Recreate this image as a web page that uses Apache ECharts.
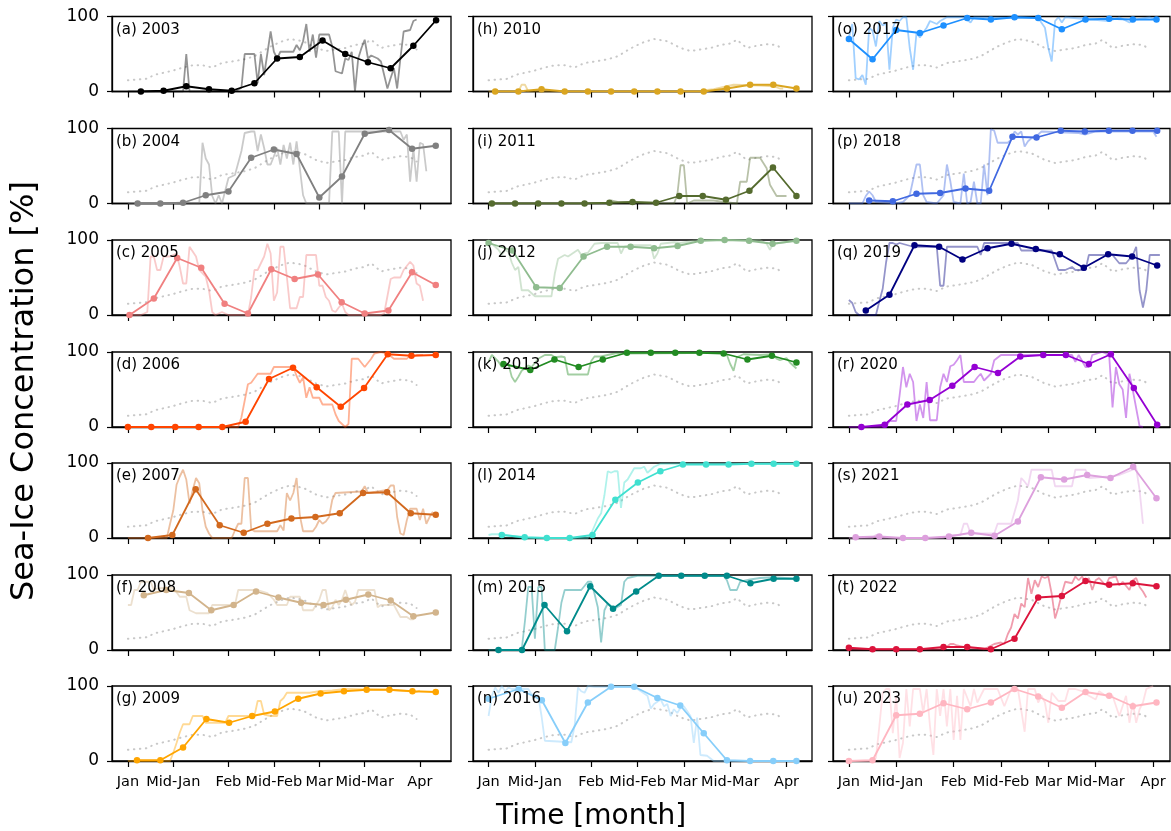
<!DOCTYPE html>
<html>
<head>
<meta charset="utf-8">
<script src="https://cdn.jsdelivr.net/npm/echarts@6/dist/echarts.min.js"></script>
<style>
  html, body { margin: 0; padding: 0; background: #fff; }
  #chart { width: 1171px; height: 831px; }
</style>
</head>
<body>
<div id="chart"></div>
<script>
const years = [2003, 2004, 2005, 2006, 2007, 2008, 2009, 2010, 2011, 2012, 2013,
  2014, 2015, 2016, 2017, 2018, 2019, 2020, 2021, 2022, 2023];
const tags = ["a", "b", "c", "d", "e", "f", "g", "h", "i", "j", "k",
  "l", "m", "n", "o", "p", "q", "r", "s", "t", "u"];
const colors = ["#000000", "#808080", "#f08080", "#ff4500", "#d2691e", "#d2b48c", "#ffa500",
  "#daa520", "#556b2f", "#8fbc8f", "#228b22", "#40e0d0", "#008b8b", "#87cefa",
  "#1e90ff", "#4169e1", "#000080", "#9400d3", "#dda0dd", "#dc143c", "#ffb6c1"];

// days counted from 1 January
const tickDays = [0, 14, 31, 45, 59, 73, 90];
const tickNames = ["Jan", "Mid-Jan", "Feb", "Mid-Feb", "Mar", "Mid-Mar", "Apr"];

// climatology (grey dotted)
const climDays = [0, 3, 6, 8, 11, 14, 17, 20, 23, 26, 29, 32, 36, 39, 42, 44, 47, 50, 54, 58, 61, 64, 67, 70, 73, 75, 78, 81, 84, 87, 89];
const climVals = [15, 16, 17, 22, 25, 28, 32, 35, 35, 32, 38, 40, 43, 47, 55, 60, 66, 70, 67, 58, 54, 56, 58, 62, 64, 69, 58, 61, 63, 62, 56];

// weekly means [day, %]
const wk2003 = [[4,0],[11,1],[18,7],[25,3],[32,1],[39,11],[46,44],[53,46],[60,68],[67,50],[74,39],[81,31],[88,61],[95,95]];
const wk2004 = [[3,0],[10,0],[17,1],[24,11],[31,16],[38,61],[45,72],[52,66],[59,8],[66,36],[73,93],[80.5,98],[87.6,73],[94.9,77]];
const wk2005 = [[0.5,0],[8,22],[15.2,76],[22.6,63],[29.8,15],[37,2],[44.2,61],[51.4,48],[58.6,54],[65.9,17],[73,2],[80.3,6],[87.6,57],[94.9,40]];
const wk2006 = [[0,0],[7.2,0],[14.6,0],[21.8,0],[29.1,0],[36.3,7],[43.5,64],[50.9,79],[58.2,53],[65.6,27],[72.8,52],[80.1,97],[87.4,95],[94.9,96]];
const wk2007 = [[6.2,0],[13.7,4],[20.9,65],[28.3,17],[35.7,7],[43,19],[50.4,26],[57.8,28],[65.3,33],[72.5,60],[79.9,61],[87.2,33],[94.9,31]];
const wk2008 = [[4.9,73],[11.8,80],[18.8,76],[25.7,53],[32.6,60],[39.5,78],[46.4,70],[53.4,63],[60.3,60],[67.2,67],[74.1,74],[81,66],[88,45],[94.9,50]];
const wk2009 = [[2.8,1],[10,1],[17,18],[24.2,56],[31.2,51],[38.3,60],[45.3,66],[52.5,83],[59.4,90],[66.6,93],[73.6,95],[80.6,95],[87.7,93],[94.9,92]];
const wk2010 = [[2,0],[9,0],[16,3],[23,0],[30,0],[37,0],[44,0],[51,0],[58,0],[65,0],[72,4],[79,9],[86,9],[93,4]];
const wk2011 = [[1,0],[8,0],[15,0],[22,0],[29,0],[36.5,1],[43.5,2],[50.6,1],[57.6,10],[64.7,10],[71.7,5],[78.8,17],[85.9,48],[93,10]];
const wk2012 = [[0,96],[7.2,86],[14.4,37],[21.5,36],[28.7,78],[35.8,91],[42.9,91],[50,89],[57.1,92],[64.1,99],[71.3,100],[78.7,99],[85.8,95],[93,99]];
const wk2013 = [[4.5,84],[12.6,76],[19.9,90],[27.2,80],[34.5,90],[41.8,99],[49,99],[56.4,99],[63.7,99],[71,98],[78.2,90],[85.6,95],[93,86]];
const wk2014 = [[4,4],[10.9,1],[17.6,0],[24.5,0],[31.4,4],[38.3,51],[45.1,74],[51.9,89],[58.7,98],[65.7,98],[72.5,98],[79.4,99],[86.1,99],[93,99]];
const wk2015 = [[3,0],[10.1,0],[16.9,60],[23.7,25],[30.7,85],[37.6,55],[44.6,78],[51.4,99],[58.2,99],[65.3,99],[72,99],[79.1,89],[86.1,95],[93,95]];
const wk2016 = [[0,83],[9.1,96],[16.1,81],[23.2,24],[30,78],[37,99],[44,99],[51,84],[57.9,74],[65,37],[72,1],[79,0],[86,0],[93,0]];
const wk2017 = [[0,70],[7,43],[14,82],[21,78],[28,88],[35,98],[42,96],[49,99],[56,98],[63,83],[70,96],[77,97],[84,96],[91,96]];
const wk2018 = [[6,4],[13,3],[20,13],[27,14],[34.5,20],[41.5,17],[48.4,89],[55.5,88],[62.7,97],[69.8,96],[76.9,97],[83.9,97],[91.2,97]];
const wk2019 = [[5,6],[12,27],[19.4,93],[26.7,91],[33.6,74],[41,89],[48.1,95],[55.3,88],[62.4,81],[69.5,63],[76.7,81],[83.8,78],[91.2,66]];
const wk2020 = [[3.7,0],[10.6,3],[17.3,30],[23.9,36],[30.6,55],[37.2,80],[44.1,72],[50.7,94],[57.5,96],[64.2,96],[71,84],[77.5,97],[84.3,52],[91.2,3]];
const wk2021 = [[2,1],[9,2],[16,0],[22.6,0],[29.6,2],[36.2,7],[43.1,3],[50,22],[56.8,81],[63.7,78],[70.5,84],[77.4,80],[84.1,95],[91,53]];
const wk2022 = [[0,3],[7,1],[14,1],[21,1],[28,4],[35,4],[42,1],[49,15],[56,70],[63,72],[70,92],[77,87],[84,89],[91,85]];
const wk2023 = [[0,0],[7,1],[14,61],[21,63],[28,77],[35,69],[42,78],[49,96],[56,86],[63,71],[70,92],[77,87],[84,73],[91,78]];

// daily values [day, %]
const dy2003 = [[0,0],[16,0],[17,0],[18,50],[19,0],[33,0],[35,5],[36,50],[39,50],[40,11],[41,50],[42,22],[44,80],[45,53],[46,44],[47,53],[51,53],[52,62],[53,55],[54,67],[55,90],[56,53],[57,76],[58,45],[59,76],[62,76],[63,60],[64,27],[66,24],[67,44],[68,42],[69,53],[70,0],[71,44],[72,58],[73,69],[74,44],[75,48],[77,44],[78,40],[79,22],[80,4],[81,18],[82,31],[83,4],[84,44],[85,80],[87,82],[88,94],[89,96]];
const dy2004 = [[0,0],[22,0],[23,81],[24,60],[25,52],[26,10],[27,0],[28,11],[29,0],[31,34],[33,38],[35,70],[36,94],[38,96],[39,96],[40,70],[41,92],[42,74],[43,52],[44,52],[46,74],[47,52],[48,78],[49,60],[50,81],[51,52],[52,83],[53,47],[54,11],[55,0],[62,0],[63,96],[65,96],[66,0],[67,96],[84,96],[85,85],[86,92],[87,29],[88,73],[89,29],[90,81],[91,79],[92,43]];
const dy2005 = [[0,0],[4,0],[6,4],[7,78],[8,78],[9,60],[10,60],[11,78],[13,78],[15,82],[16,64],[17,42],[18,42],[19,91],[21,78],[22,60],[24,51],[25,33],[26,4],[27,0],[29,4],[31,0],[37,0],[38,24],[39,60],[40,60],[42,78],[43,95],[44,82],[45,19],[46,30],[47,91],[48,91],[49,51],[50,9],[52,9],[53,24],[54,24],[55,80],[58,80],[59,39],[60,39],[61,24],[62,19],[63,6],[64,4],[65,10],[66,15],[67,4],[68,0],[78,0],[79,2],[81,48],[82,50],[84,50],[85,60],[87,71],[88,66],[89,42],[90,39],[91,19]];
const dy2006 = [[0,0],[34,0],[35,13],[36,35],[37,57],[38,59],[40,71],[44,71],[45,80],[51,80],[52,68],[53,59],[54,66],[55,39],[56,53],[57,39],[59,39],[60,30],[63,30],[64,17],[65,8],[66,4],[67,0],[68,4],[69,91],[71,91],[73,80],[75,91],[76,98],[78,100],[80,98],[82,91],[86,91],[87,96],[88,94],[89,96],[91,96]];
const dy2007 = [[0,0],[12,0],[13,19],[14,37],[15,71],[16,82],[17,91],[18,78],[19,46],[20,64],[21,80],[22,73],[23,37],[24,15],[25,6],[26,0],[32,0],[33,10],[34,19],[35,19],[36,80],[37,80],[38,12],[39,9],[46,9],[47,17],[48,10],[49,60],[50,50],[51,60],[52,80],[53,30],[54,9],[57,9],[58,15],[59,24],[60,19],[61,22],[62,28],[63,51],[64,60],[72,62],[73,69],[74,60],[80,64],[81,70],[82,70],[83,28],[84,6],[85,4],[86,24],[87,39],[89,39],[90,24],[91,39],[92,19],[93,28],[94,35]];
const dy2008 = [[0,60],[1,60],[2,80],[3,80],[4,91],[7,91],[8,80],[9,82],[12,83],[14,83],[16,71],[18,71],[19,53],[21,49],[25,49],[26,60],[33,60],[34,80],[40,80],[43,76],[45,67],[46,60],[49,60],[50,71],[53,71],[54,53],[57,53],[58,60],[59,67],[60,80],[61,80],[62,53],[63,57],[64,67],[65,60],[66,67],[67,80],[68,67],[69,60],[70,64],[71,80],[76,80],[77,57],[78,60],[79,60],[82,60],[84,44],[86,44],[87,41],[88,41],[89,46]];
const dy2009 = [[0,0],[13,0],[14,11],[15,24],[16,38],[17,49],[19,49],[20,60],[23,60],[24,51],[26,51],[30,51],[31,60],[39,60],[40,80],[41,80],[42,62],[44,60],[46,60],[47,80],[48,84],[49,91],[56,91],[59,93],[63,94],[67,96],[80,95],[87,93],[89,92],[90,94]];
const dy2010 = [[0,0],[9,0],[10,9],[11,9],[12,0],[64,0],[66,2],[68,3],[71,6],[74,9],[82,8],[86,7],[88,4],[89,4]];
const dy2011 = [[0,0],[36,0],[37,4],[39,2],[52,0],[56,0],[57,11],[58,51],[59,51],[60,0],[61,2],[62,4],[68,4],[71,2],[75,0],[76,29],[78,29],[79,61],[82,61],[84,47],[85,25],[87,10],[90,10]];
const dy2012 = [[0,95],[1,95],[3,87],[4,80],[5,87],[6,84],[7,70],[8,60],[9,64],[10,33],[12,33],[14,25],[19,25],[20,55],[21,75],[23,80],[24,78],[26,84],[27,87],[28,80],[29,82],[30,83],[32,95],[34,96],[39,96],[40,82],[41,91],[44,93],[49,93],[50,75],[51,82],[52,95],[56,97],[58,96],[62,99],[66,100],[82,100],[84,95],[85,87],[86,95],[88,96],[92,99]];
const dy2013 = [[0,87],[1,96],[3,87],[4,80],[6,84],[7,67],[8,60],[9,67],[10,75],[12,82],[13,80],[15,91],[17,96],[19,96],[20,93],[22,94],[23,93],[24,70],[30,70],[31,88],[32,94],[34,94],[36,96],[39,99],[42,98],[70,99],[72,96],[73,84],[74,75],[75,93],[77,97],[82,96],[86,97],[87,91],[88,89],[90,92],[91,86],[93,78]];
const dy2014 = [[0,4],[1,5],[4,5],[11,0],[30,0],[31,6],[32,16],[33,26],[34,33],[35,57],[36,89],[37,87],[38,89],[39,89],[40,40],[41,74],[42,78],[44,93],[46,93],[47,95],[48,87],[50,95],[52,99],[62,99],[93,99]];
const dy2015 = [[0,0],[10,0],[11,39],[12,84],[13,84],[14,15],[15,84],[16,84],[17,0],[20,0],[21,30],[22,63],[23,80],[28,80],[30,91],[31,91],[32,75],[33,57],[34,10],[35,53],[36,62],[38,55],[40,60],[41,91],[42,96],[43,97],[45,99],[71,99],[72,93],[73,80],[75,80],[76,91],[79,94],[82,96],[86,97],[93,95]];
const dy2016 = [[0,60],[1,87],[2,98],[3,91],[4,100],[5,93],[6,98],[7,96],[12,96],[13,89],[15,87],[16,60],[17,27],[25,25],[26,47],[27,98],[28,93],[29,91],[30,100],[32,99],[44,99],[46,93],[48,87],[49,70],[50,76],[52,82],[53,73],[54,76],[55,60],[56,69],[57,64],[58,71],[59,73],[61,60],[62,24],[63,58],[64,8],[66,7],[68,0],[90,0]];
const dy2017 = [[0,72],[1,90],[2,18],[3,16],[4,22],[5,9],[6,85],[7,81],[8,60],[9,94],[10,88],[11,91],[12,29],[13,85],[14,96],[15,94],[16,99],[17,99],[18,58],[19,29],[20,78],[21,72],[23,85],[24,94],[26,90],[27,94],[29,99],[34,99],[36,92],[37,99],[56,98],[58,85],[59,58],[60,40],[61,94],[62,99],[63,92],[64,99],[77,94],[80,99],[83,92],[85,96],[89,99],[91,96]];
const dy2018 = [[0,0],[4,0],[5,10],[6,16],[7,11],[8,2],[14,0],[16,2],[18,11],[20,52],[21,52],[22,11],[23,2],[26,0],[28,11],[29,52],[30,30],[31,2],[33,0],[34,40],[35,0],[36,2],[37,29],[38,0],[39,0],[40,52],[41,11],[42,99],[43,97],[44,81],[47,81],[48,85],[49,96],[50,92],[51,96],[52,76],[53,83],[54,87],[56,92],[57,96],[68,94],[70,92],[73,96],[90,96],[91,89]];
const dy2019 = [[0,20],[1,16],[2,4],[3,0],[8,0],[9,18],[10,35],[11,70],[12,96],[13,96],[14,94],[15,96],[19,91],[26,91],[27,39],[28,39],[29,91],[38,91],[39,80],[40,96],[50,96],[51,86],[60,86],[62,60],[64,60],[66,64],[67,60],[70,60],[71,80],[78,80],[80,69],[82,69],[84,80],[85,91],[86,33],[87,10],[88,33],[89,80],[92,80]];
const dy2020 = [[0,0],[11,0],[12,8],[14,8],[15,42],[16,80],[17,53],[18,71],[19,60],[20,8],[21,30],[22,12],[23,60],[24,9],[26,9],[27,53],[28,71],[29,60],[30,81],[31,83],[32,89],[33,96],[34,60],[37,60],[38,66],[39,71],[40,62],[42,71],[43,89],[45,96],[66,96],[67,87],[68,96],[70,80],[71,80],[72,96],[75,100],[77,96],[78,26],[79,80],[80,57],[81,50],[82,12],[83,71],[84,49],[86,1],[87,0]];
const dy2021 = [[0,0],[7,0],[8,4],[9,4],[10,0],[28,0],[30,4],[33,4],[34,19],[35,19],[36,6],[43,6],[44,19],[48,19],[50,50],[51,80],[52,75],[53,69],[54,91],[60,91],[61,69],[66,69],[67,91],[70,91],[71,80],[77,82],[80,84],[84,91],[85,93],[86,64],[87,19]];
const dy2022 = [[0,1],[28,1],[30,8],[31,8],[32,6],[34,4],[40,1],[43,8],[45,10],[46,8],[47,21],[48,30],[49,48],[50,42],[51,62],[52,57],[53,96],[54,75],[55,93],[56,84],[57,98],[58,96],[59,98],[60,75],[61,42],[62,57],[63,75],[64,91],[66,89],[67,98],[68,93],[69,98],[70,89],[71,96],[72,80],[73,93],[74,96],[76,86],[77,96],[79,98],[80,86],[81,91],[83,80],[84,93],[85,96],[86,84],[87,78],[88,70]];
const dy2023 = [[0,0],[6,0],[8,4],[9,46],[10,91],[11,96],[12,96],[13,37],[14,87],[15,4],[16,24],[17,96],[18,46],[19,96],[21,96],[22,64],[23,96],[24,46],[25,8],[26,96],[27,60],[28,96],[29,46],[30,96],[31,28],[32,87],[33,28],[34,96],[36,73],[37,96],[38,78],[40,96],[44,96],[46,73],[48,96],[50,96],[52,39],[53,96],[55,96],[56,78],[57,87],[58,78],[59,51],[60,91],[62,80],[64,80],[65,96],[67,96],[69,93],[71,87],[73,82],[74,93],[76,87],[78,87],[80,60],[82,87],[83,51],[84,78],[85,51],[86,69],[87,78],[88,96],[90,100]];

const weekly = [wk2003, wk2004, wk2005, wk2006, wk2007, wk2008, wk2009, wk2010, wk2011, wk2012, wk2013,
  wk2014, wk2015, wk2016, wk2017, wk2018, wk2019, wk2020, wk2021, wk2022, wk2023];
const daily = [dy2003, dy2004, dy2005, dy2006, dy2007, dy2008, dy2009, dy2010, dy2011, dy2012, dy2013,
  dy2014, dy2015, dy2016, dy2017, dy2018, dy2019, dy2020, dy2021, dy2022, dy2023];

const clim = climDays.map((d, i) => [d, climVals[i]]);

// panel layout
const colLeft = [112, 473, 833];
const colWidth = [339, 339, 337];
const colMin = [-4.9, -4.7, -4.7];
const colMax = [99.6, 97.7, 95.0];
const rowTop = [16.5, 128.5, 240, 352, 463, 575, 686];
const panelH = 75;
const FONT = "DejaVu Sans";

var chart = echarts.init(document.getElementById("chart"));

var grids = [], xAxes = [], yAxes = [], series = [], titles = [];

years.forEach((yr, i) => {
  const col = Math.floor(i / 7);
  const row = i % 7;
  grids.push({
    left: colLeft[col],
    top: rowTop[row],
    width: colWidth[col],
    height: panelH,
    show: true,
    borderColor: "#000",
    borderWidth: 1.3,
    containLabel: false
  });
  xAxes.push({
    type: "value",
    gridIndex: i,
    min: colMin[col],
    max: colMax[col],
    axisLine: { show: true, onZero: false, lineStyle: { color: "#000", width: 1.3 } },
    axisTick: { show: true, customValues: tickDays, length: 6, lineStyle: { color: "#000", width: 1.2 } },
    axisLabel: {
      show: row === 6,
      customValues: tickDays,
      formatter: v => tickNames[tickDays.indexOf(v)],
      fontFamily: FONT,
      fontSize: 14.5,
      color: "#000",
      margin: 14
    },
    splitLine: { show: false }
  });
  yAxes.push({
    type: "value",
    gridIndex: i,
    min: 0,
    max: 100,
    interval: 100,
    axisLine: { show: true, onZero: false, lineStyle: { color: "#000", width: 1.3 } },
    axisTick: { show: true, length: 5, lineStyle: { color: "#000", width: 1.2 } },
    axisLabel: { show: col === 0, fontFamily: FONT, fontSize: 17, color: "#000", margin: 13 },
    splitLine: { show: false }
  });
  titles.push({
    text: "(" + tags[i] + ") " + yr,
    left: colLeft[col] + 4,
    top: rowTop[row] + 6,
    padding: 0,
    textStyle: { fontFamily: FONT, fontSize: 15, fontWeight: "normal", color: "#000" }
  });
  series.push({
    type: "line",
    xAxisIndex: i,
    yAxisIndex: i,
    data: clim,
    showSymbol: false,
    silent: true,
    z: 1,
    lineStyle: { color: "#c8c8c8", width: 2, type: [0.5, 5.5], cap: "round" }
  });
  series.push({
    type: "line",
    xAxisIndex: i,
    yAxisIndex: i,
    data: daily[i],
    showSymbol: false,
    z: 2,
    lineStyle: { color: colors[i], width: 1.8, opacity: 0.42 }
  });
  series.push({
    type: "line",
    xAxisIndex: i,
    yAxisIndex: i,
    data: weekly[i],
    symbol: "circle",
    symbolSize: 6.5,
    showAllSymbol: true,
    z: 3,
    itemStyle: { color: colors[i] },
    lineStyle: { color: colors[i], width: 1.8 }
  });
});

chart.setOption({
  animation: false,
  backgroundColor: "#fff",
  title: titles,
  grid: grids,
  xAxis: xAxes,
  yAxis: yAxes,
  series: series,
  graphic: [
    {
      type: "text",
      x: 591,
      y: 817,
      style: { text: "Time [month]", fontFamily: FONT, fontSize: 28, fill: "#000", textAlign: "center", textVerticalAlign: "middle" }
    },
    {
      type: "text",
      x: 25,
      y: 391,
      rotation: Math.PI / 2,
      style: { text: "Sea-Ice Concentration [%]", fontFamily: FONT, fontSize: 32, fill: "#000", textAlign: "center", textVerticalAlign: "middle" }
    }
  ]
});
</script>
</body>
</html>
